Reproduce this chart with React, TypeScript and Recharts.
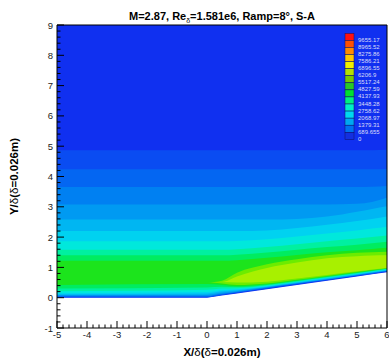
import React from 'react';
import { ComposedChart, Area, XAxis, YAxis, Legend } from 'recharts';

// Sample stations along X/δ
const xPos = [-5, 0, 0.5, 1, 2, 3, 4, 5, 5.5, 6];
// Wall (flat plate then 8° ramp)
const wall = [0, 0, 0.07, 0.14, 0.28, 0.42, 0.56, 0.7, 0.77, 0.84];

// Contour levels: lower (near-wall) and upper edges of the region above each level
const lo1 = [0.015, 0.015, 0.085, 0.155, 0.295, 0.435, 0.575, 0.715, 0.785, 0.855];
const lo2 = [0.03, 0.03, 0.1, 0.17, 0.31, 0.45, 0.59, 0.73, 0.8, 0.87];
const lo3 = [0.045, 0.05, 0.12, 0.185, 0.325, 0.465, 0.6, 0.74, 0.81, 0.88];
const lo4 = [0.065, 0.07, 0.14, 0.2, 0.335, 0.475, 0.61, 0.75, 0.82, 0.89];
const lo5 = [0.085, 0.1, 0.17, 0.22, 0.35, 0.485, 0.62, 0.76, 0.83, 0.9];
const lo6 = [0.11, 0.14, 0.21, 0.25, 0.365, 0.5, 0.635, 0.77, 0.84, 0.91];
const lo7 = [0.15, 0.19, 0.25, 0.28, 0.38, 0.515, 0.65, 0.785, 0.855, 0.925];
const lo8 = [0.21, 0.26, 0.3, 0.31, 0.4, 0.53, 0.665, 0.8, 0.87, 0.94];
const lo9 = [0.3, 0.34, 0.36, 0.35, 0.42, 0.55, 0.68, 0.815, 0.885, 0.955];
const lo10 = [0.42, 0.45, 0.42, 0.38, 0.44, 0.57, 0.7, 0.83, 0.9, 0.965];
const lo11 = [0.5, 0.5, 0.47, 0.42, 0.47, 0.59, 0.72, 0.85, 0.915, 0.975];
const lo12 = [0.52, 0.52, 0.52, 0.5, 0.53, 0.63, 0.75, 0.87, 0.93, 0.99];

const hi1 = [4.87, 4.87, 4.87, 4.87, 4.87, 4.87, 4.87, 4.87, 4.87, 4.88];
const hi2 = [4.24, 4.24, 4.24, 4.24, 4.24, 4.24, 4.24, 4.24, 4.24, 4.25];
const hi3 = [3.65, 3.65, 3.65, 3.65, 3.65, 3.65, 3.65, 3.65, 3.66, 3.69];
const hi4 = [3.08, 3.08, 3.08, 3.08, 3.08, 3.08, 3.08, 3.1, 3.16, 3.3];
const hi5 = [2.58, 2.58, 2.58, 2.58, 2.58, 2.6, 2.68, 2.84, 2.93, 3.02];
const hi6 = [2.2, 2.2, 2.2, 2.2, 2.22, 2.3, 2.41, 2.53, 2.6, 2.68];
const hi7 = [1.86, 1.86, 1.86, 1.87, 1.93, 2.02, 2.12, 2.22, 2.28, 2.34];
const hi8 = [1.58, 1.58, 1.58, 1.6, 1.67, 1.76, 1.86, 1.95, 2.0, 2.05];
const hi9 = [1.4, 1.4, 1.4, 1.42, 1.49, 1.58, 1.67, 1.75, 1.8, 1.85];
const hi10 = [1.22, 1.22, 1.22, 1.24, 1.32, 1.41, 1.5, 1.57, 1.61, 1.65];
const hi11 = [0.5, 0.5, 0.56, 0.82, 1.1, 1.27, 1.4, 1.48, 1.5, 1.52];
const hi12 = [0.52, 0.52, 0.52, 0.7, 0.98, 1.16, 1.3, 1.37, 1.39, 1.4];

const bgColor = '#1030f0';
const fieldColors = [
  '#0a4cf2', '#0466f2', '#0080f2', '#009af2', '#00b6f2', '#00d2f0',
  '#00e8dc', '#00f0a0', '#00ec60', '#1ce41c', '#6cec00', '#a8f000',
];

const legendLabels = [
  '9655.17', '8965.52', '8275.86', '7586.21', '6896.55', '6206.9', '5517.24',
  '4827.59', '4137.93', '3448.28', '2758.62', '2068.97', '1379.31', '689.655', '0',
];
const legendColors = [
  '#ff1010', '#ff5000', '#ff8c00', '#ffc800', '#f0f000', '#b4e000', '#78c800',
  '#28c828', '#00e030', '#00f080', '#00f0c8', '#00d8f0', '#00a8f0', '#0070f0', '#1430e0',
];

const xMajor = [-5, -4, -3, -2, -1, 0, 1, 2, 3, 4, 5, 6];
const yMajor = [-1, 0, 1, 2, 3, 4, 5, 6, 7, 8, 9];

const minorTicks = (major: number[]) => {
  const out: number[] = [];
  for (let i = 0; i < major.length - 1; i++) {
    for (let j = 0; j < 5; j++) out.push(Math.round((major[i] + j * 0.2) * 10) / 10);
  }
  out.push(major[major.length - 1]);
  return out;
};
const xTicksAll = minorTicks(xMajor);
const yTicksAll = minorTicks(yMajor);

const loArrays = [lo1, lo2, lo3, lo4, lo5, lo6, lo7, lo8, lo9, lo10, lo11, lo12];
const hiArrays = [hi1, hi2, hi3, hi4, hi5, hi6, hi7, hi8, hi9, hi10, hi11, hi12];

const data = xPos.map((x, i) => {
  const row: any = { x, bg: [wall[i], 9] };
  loArrays.forEach((lo, k) => {
    row['k' + (k + 1)] = [lo[i], hiArrays[k][i]];
  });
  return row;
});

const FONT = '"Liberation Sans", Arial, sans-serif';

const isMajor = (v: number) => Math.abs(v - Math.round(v)) < 1e-6;

const XTick = (props: any) => {
  const { x, y, payload } = props;
  const v = payload.value;
  const major = isMajor(v);
  return (
    <g>
      <line x1={x} x2={x} y1={y} y2={y - (major ? 7 : 3.5)} stroke="#000" strokeWidth={1} />
      {major && (
        <text x={x} y={y + 10} textAnchor="middle" fontSize={9.5} fontFamily={FONT} fill="#222">
          {String(Math.round(v))}
        </text>
      )}
    </g>
  );
};

const YTick = (props: any) => {
  const { x, y, payload } = props;
  const v = payload.value;
  const major = isMajor(v);
  return (
    <g>
      <line x1={x} x2={x + (major ? 7 : 3.5)} y1={y} y2={y} stroke="#000" strokeWidth={1} />
      {major && (
        <text x={x - 4} y={y + 3.5} textAnchor="end" fontSize={9.5} fontFamily={FONT} fill="#222">
          {String(Math.round(v))}
        </text>
      )}
    </g>
  );
};

const renderLegend = () => {
  const boxH = 7.07;
  return (
    <svg width={49} height={115} style={{ display: 'block' }}>
      {legendColors.map((c, i) => (
        <rect key={'r' + i} x={5} y={3.3 + i * boxH} width={9} height={boxH} fill={c} stroke="#101060" strokeWidth={0.5} />
      ))}
      {legendLabels.map((l, i) => (
        <text key={'t' + i} x={18} y={3.3 + (i + 1) * boxH + 1.5} fontSize={6} fontFamily={FONT} fill="#dcdcf8">
          {l}
        </text>
      ))}
    </svg>
  );
};

const TopLabel = (p: any) => {
  const vb = p.viewBox || { x: 57, width: 330 };
  const cx = (vb.x ?? 57) + (vb.width ?? 330) / 2;
  return (
    <text x={cx} y={20} textAnchor="middle" fontSize={11} fontWeight="bold" fontFamily={FONT} fill="#000">
      M=2.87, Re<tspan fontSize={7} fontWeight="normal" dy={3}>δ</tspan>
      <tspan dy={-3}>=1.581e6, Ramp=8°, S-A</tspan>
    </text>
  );
};

export default function App() {
  return (
    <div style={{ position: 'absolute', left: 0, top: 0, width: 389, height: 363, background: '#fff' }}>
      <ComposedChart width={389} height={363} data={data} margin={{ top: 0, right: 0, bottom: 0, left: 0 }}>
        <Area dataKey="bg" type="linear" stroke="none" fill={bgColor} fillOpacity={1} isAnimationActive={false} dot={false} activeDot={false} />
        {fieldColors.map((c, k) => (
          <Area
            key={k}
            dataKey={'k' + (k + 1)}
            type="monotone"
            stroke="none"
            fill={c}
            fillOpacity={1}
            isAnimationActive={false}
            dot={false}
            activeDot={false}
          />
        ))}
        <XAxis
          dataKey="x"
          type="number"
          domain={[-5, 6]}
          ticks={xTicksAll}
          interval={0}
          allowDataOverflow
          height={35}
          tickSize={0}
          tickMargin={0}
          tickLine={false}
          axisLine={{ stroke: '#000', strokeWidth: 1 }}
          tick={<XTick />}
          label={(p: any) => {
            const vb = p.viewBox || { x: 57, y: 328, width: 330 };
            return (
              <text x={vb.x + vb.width / 2} y={vb.y + 28} textAnchor="middle" fontSize={11.5} fontWeight="bold" fontFamily={FONT} fill="#000">
                X/<tspan fontWeight="normal">δ</tspan>(<tspan fontWeight="normal">δ</tspan>=0.026m)
              </text>
            );
          }}
        />
        <XAxis
          xAxisId="top"
          orientation="top"
          type="number"
          dataKey="x"
          domain={[-5, 6]}
          height={25}
          tick={false}
          tickLine={false}
          axisLine={{ stroke: '#000', strokeWidth: 1 }}
          label={<TopLabel />}
        />
        <YAxis
          type="number"
          domain={[-1, 9]}
          ticks={yTicksAll}
          interval={0}
          allowDataOverflow
          width={57}
          tickSize={0}
          tickMargin={0}
          tickLine={false}
          axisLine={{ stroke: '#000', strokeWidth: 1 }}
          tick={<YTick />}
          label={(p: any) => {
            const vb = p.viewBox || { x: 0, y: 25, height: 303 };
            const cy = vb.y + vb.height / 2;
            return (
              <text x={14} y={cy} transform={`rotate(-90 14 ${cy})`} textAnchor="middle" dominantBaseline="central" fontSize={11.5} fontWeight="bold" fontFamily={FONT} fill="#000">
                Y/<tspan fontWeight="normal">δ</tspan>(<tspan fontWeight="normal">δ</tspan>=0.026m)
              </text>
            );
          }}
        />
        <YAxis
          yAxisId="right"
          orientation="right"
          type="number"
          domain={[-1, 9]}
          width={2}
          tick={false}
          tickLine={false}
          axisLine={{ stroke: '#000', strokeWidth: 1 }}
        />
        <Legend
          content={renderLegend}
          layout="vertical"
          align="center"
          verticalAlign="middle"
          wrapperStyle={{ position: 'absolute', left: 340, top: 30, width: 49, height: 115 }}
        />
      </ComposedChart>
    </div>
  );
}
